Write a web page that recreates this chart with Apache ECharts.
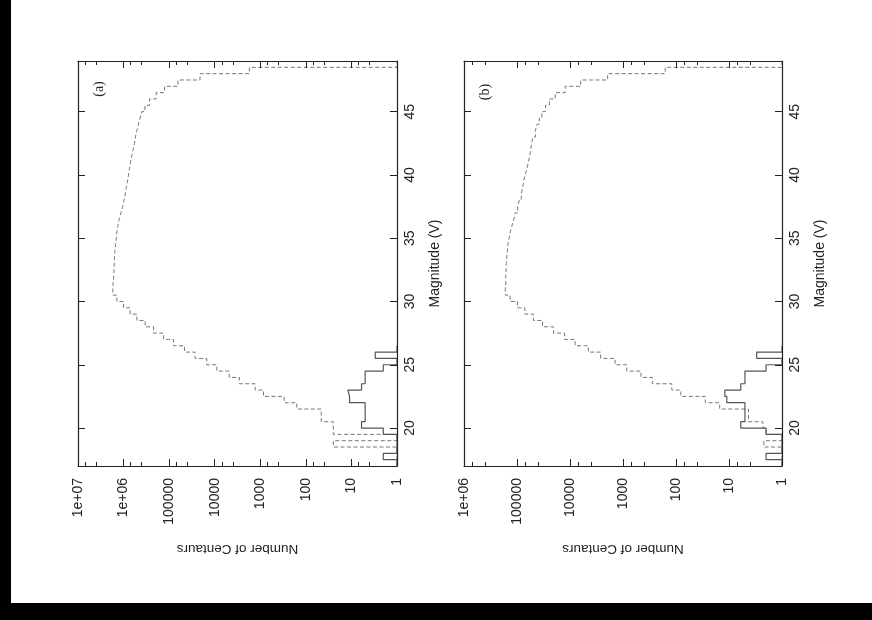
<!DOCTYPE html>
<html><head><meta charset="utf-8">
<script src="https://cdn.jsdelivr.net/npm/echarts@6/dist/echarts.min.js"></script>
<style>html,body{margin:0;padding:0;background:#fff}#c{width:872px;height:620px}</style>
</head><body><div id="c"></div>
<script>
// Magnitude bins (lower edge of each 0.5-mag bin)
const binStart = [17,17.5,18,18.5,19,19.5,20,20.5,21,21.5,22,22.5,23,23.5,24,24.5,25,25.5,26,26.5,27,27.5,28,28.5,29,29.5,30,30.5,31,31.5,32,32.5,33,33.5,34,34.5,35,35.5,36,36.5,37,37.5,38,38.5,39,39.5,40,40.5,41,41.5,42,42.5,43,43.5,44,44.5,45,45.5,46,46.5,47,47.5,48,48.5];
const binWidth = 0.5;
// Panel (a) model (dashed)
const modelA = [0,0,0,25,0,25,25,46,46,158,300,850,1300,2870,4800,9000,15000,27000,46000,80000,132000,220000,336000,510000,720000,1000000,1400000,1720000,1690000,1650000,1620000,1600000,1580000,1550000,1500000,1450000,1400000,1330000,1250000,1140000,1050000,980000,920000,875000,820000,780000,740000,705000,660000,617000,575000,550000,513000,470000,433000,398000,340000,270000,193000,126000,64000,21000,1740,0];
// Panel (b) model (dashed)
const modelB = [0,0,0,2.2,0,2,2.3,4.3,4.3,15,28,81,120,280,457,850,1410,2640,4500,8000,12700,20500,33000,49000,71000,98000,135000,166000,163000,163000,161000,159000,156000,152000,148000,141000,134000,124000,115000,108000,97000,91000,83000,78000,75000,70000,65000,61000,57500,55000,53000,50000,45000,42000,38000,34000,29000,24500,19000,12300,6300,1950,160,0];
// Observed Centaurs (solid), same in both panels
const observed = [0,2,0,0,0,2,6,5,5,5,11,12,6,5,5,2,0,3,0,0,0,0,0,0,0,0,0,0,0,0,0,0,0,0,0,0,0,0,0,0,0,0,0,0,0,0,0,0,0,0,0,0,0,0,0,0,0,0,0,0,0,0,0,0];
const magTicks = [20,25,30,35,40,45];
const panelLabels = ['(a)','(b)'];
const countMax = [1e7, 1e6];
const yTitle = 'Number of Centaurs';
const xTitle = 'Magnitude (V)';

function histo(vals, lastBin){
  const pts = [];
  const n = lastBin == null ? binStart.length : lastBin;
  for (let i = 0; i < n; i++){
    const v = Math.max(vals[i], 1);
    pts.push([v, binStart[i]], [v, binStart[i] + binWidth]);
  }
  return pts;
}
function lastNonZero(vals){ let k = 0; vals.forEach((v,i)=>{ if (v > 0) k = i; }); return k + 2; }

const FONT = '"Liberation Sans", Arial, sans-serif';
const INK = '#222';
function fmtCount(v){
  const e = Math.round(Math.log10(v));
  return e >= 6 ? '1e+0' + e : String(Math.round(v));
}
const grids = [
  {left: 78, top: 61, width: 319, height: 405},
  {left: 464, top: 61, width: 318, height: 405}
];
const xAxes = [], yAxes = [], series = [];
[0,1].forEach(g => {
  const base = {type:'log', logBase:10, gridIndex:g, min:1, max:countMax[g], inverse:true, z:5,
    axisLine:{show:true, lineStyle:{color:INK, width:1.2}},
    axisTick:{show:true, inside:true, length:7, lineStyle:{color:INK}},
    minorTick:{show:true, splitNumber:3, length:4, lineStyle:{color:INK}},
    splitLine:{show:false}, minorSplitLine:{show:false}};
  xAxes.push(Object.assign({}, base, {position:'bottom',
    axisLabel:{show:true, rotate:90, margin:12, fontSize:14, fontFamily:FONT, color:INK, formatter:fmtCount},
    name:yTitle, nameLocation:'middle', nameRotate:180, nameGap:76, nameMoveOverlap:false,
    nameTextStyle:{fontSize:13.5, fontFamily:FONT, color:INK}}));
  xAxes.push(Object.assign({}, base, {position:'top', axisLabel:{show:false}}));
  const ybase = {type:'value', gridIndex:g, min:17, max:49, z:5,
    axisLine:{show:true, lineStyle:{color:INK, width:1.2}},
    axisTick:{show:true, inside:true, length:7, customValues:magTicks, lineStyle:{color:INK}},
    splitLine:{show:false}};
  yAxes.push(Object.assign({}, ybase, {position:'right',
    axisLabel:{show:true, rotate:90, margin:6, fontSize:14, fontFamily:FONT, color:INK, customValues:magTicks},
    name:xTitle, nameLocation:'middle', nameRotate:90, nameGap:31, nameMoveOverlap:false,
    nameTextStyle:{fontSize:14, fontFamily:FONT, color:INK}}));
  yAxes.push(Object.assign({}, ybase, {position:'left', axisLabel:{show:false}}));
  const model = g === 0 ? modelA : modelB;
  series.push({type:'line', xAxisIndex:2*g, yAxisIndex:2*g, data:histo(model), showSymbol:false, symbol:'none',
    lineStyle:{color:'#777', width:1, type:[4,2.5]}, z:2, animation:false});
  series.push({type:'line', xAxisIndex:2*g, yAxisIndex:2*g, data:histo(observed, lastNonZero(observed)), showSymbol:false, symbol:'none',
    lineStyle:{color:'#555', width:1.2}, z:2, animation:false});
});

const chart = echarts.init(document.getElementById('c'));
chart.setOption({
  animation:false,
  backgroundColor:'#fff',
  grid: grids,
  xAxis: xAxes,
  yAxis: yAxes,
  series: series,
  graphic: [
    {type:'rect', left:0, top:0, shape:{width:11, height:620}, style:{fill:'#000'}, z:10},
    {type:'rect', left:0, top:603, shape:{width:872, height:17}, style:{fill:'#000'}, z:10},
    {type:'text', x:99, y:89, rotation:Math.PI/2, style:{text:panelLabels[0], font:'14px "Liberation Serif", serif', fill:INK, align:'center', verticalAlign:'middle'}, z:10},
    {type:'text', x:485, y:92, rotation:Math.PI/2, style:{text:panelLabels[1], font:'14px "Liberation Serif", serif', fill:INK, align:'center', verticalAlign:'middle'}, z:10}
  ]
});
</script></body></html>
